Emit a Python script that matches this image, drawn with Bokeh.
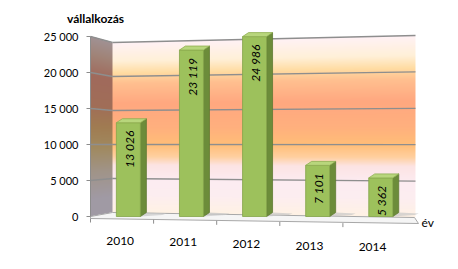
import numpy as np
from bokeh.plotting import figure
from bokeh.models import Range1d, FixedTicker
from bokeh.core.properties import value
from bokeh.embed import file_html
from bokeh.resources import INLINE

# ---------------- data ----------------
years = ["2010", "2011", "2012", "2013", "2014"]
counts = [13026, 23119, 24986, 7101, 5362]
bar_labels = ["13 026", "23 119", "24 986", "7 101", "5 362"]
y_ticks = [0, 5000, 10000, 15000, 20000, 25000]
y_tick_labels = ["0", "5 000", "10 000", "15 000", "20 000", "25 000"]
y_title = "vállalkozás"
x_title = "év"

# ---------------- geometry helpers (decoration only) ----------------
STEP = 63.1     # px per category
PXY = 0.0072    # px per unit


def px2x(px):
    return -0.6 + (px - 90) / STEP


def px2y(py):
    return (216 - py) / PXY


FONT = value("Lato")

p = figure(width=458, height=269, output_backend="svg", toolbar_location=None,
           x_range=Range1d(px2x(0), px2x(458)), y_range=Range1d(px2y(269), px2y(0)),
           min_border_left=0, min_border_right=0, min_border_top=0, min_border_bottom=0,
           x_axis_location=None)
p.grid.visible = False
p.outline_line_color = None
p.background_fill_color = "white"
p.border_fill_color = "white"

ax = p.yaxis[0]
ax.fixed_location = px2x(90)
ax.bounds = (0, 25000)
ax.ticker = FixedTicker(ticks=y_ticks)
ax.major_label_overrides = {t: l for t, l in zip(y_ticks, y_tick_labels)}
ax.major_tick_out = 4
ax.major_tick_in = 0
ax.minor_tick_line_color = None
ax.axis_line_color = "#8c8c8c"
ax.major_tick_line_color = "#8c8c8c"
ax.major_label_text_font = "Lato"
ax.major_label_text_font_size = "11px"
ax.major_label_text_color = "#000000"
ax.major_label_standoff = 8


# ---------------- walls (gradient image) ----------------
def interp_stops(f, stops):
    fs = np.array([s[0] for s in stops])
    cols = np.array([[int(s[1][i:i + 2], 16) for i in (1, 3, 5)] for s in stops], dtype=float)
    return np.stack([np.interp(f, fs, cols[:, k]) for k in range(3)], axis=-1)


back_stops = [(0.0, "#fff2e4"), (0.10, "#fdeef0"), (0.19, "#fcecf2"), (0.28, "#fde4e4"),
              (0.33, "#ffd0a0"), (0.40, "#ffbe78"), (0.50, "#ffb07e"), (0.64, "#ffa880"),
              (0.76, "#ffc090"), (0.82, "#ffdca2"), (0.89, "#fff0d8"), (1.0, "#fff2f6")]
left_stops = [(0.0, "#a09aa4"), (0.10, "#a09aa4"), (0.25, "#a09488"), (0.38, "#a08a60"),
              (0.50, "#a07c52"), (0.62, "#a06e58"), (0.78, "#a06a5c"), (0.90, "#a08478"),
              (1.0, "#a09294")]

X_A, X_B, Y_A, Y_B = 88, 420, 30, 230
cols = np.arange(X_A, X_B) + 0.5
rows = np.arange(Y_A, Y_B) + 0.5
C, R = np.meshgrid(cols, rows)
rgb = np.zeros(C.shape + (3,))
alpha = np.zeros(C.shape)

lt = 36 + (C - 90) / 22 * 6
lb = 216 - (C - 90) / 22 * 4
mask_l = (C >= 90) & (C <= 112) & (R >= lt) & (R <= lb)
fl = np.clip((lb - R) / (lb - lt), 0, 1)
rgb_l = interp_stops(fl, left_stops)
bt = 42 - (C - 112) / 303 * 7
bb = 212 + (C - 112) / 303 * 5
mask_b = (C > 112) & (C <= 415) & (R >= bt) & (R <= bb)
fb = np.clip((bb - R) / (bb - bt), 0, 1)
rgb_b = interp_stops(fb, back_stops)

rgb[mask_l] = rgb_l[mask_l]
rgb[mask_b] = rgb_b[mask_b]
alpha[mask_l | mask_b] = 255

img = np.zeros(C.shape, dtype=np.uint32)
view = img.view(dtype=np.uint8).reshape(C.shape + (4,))
view[..., 0] = rgb[..., 0].astype(np.uint8)
view[..., 1] = rgb[..., 1].astype(np.uint8)
view[..., 2] = rgb[..., 2].astype(np.uint8)
view[..., 3] = alpha.astype(np.uint8)
img = np.flipud(img)

p.image_rgba(image=[img], x=px2x(X_A), y=px2y(Y_B),
             dw=(X_B - X_A) / STEP, dh=(Y_B - Y_A) / PXY)

# gridlines on walls (from tick values)
gx0, gy0, gx1, gy1 = [], [], [], []
for v in y_ticks[1:]:
    yl_front = px2y(216 - v * PXY)
    yl_back = px2y(212 - v * 0.0068)
    yr_back = px2y(217 - v * 0.00728)
    gx0 += [px2x(90), px2x(112)]
    gy0 += [yl_front, yl_back]
    gx1 += [px2x(112), px2x(415)]
    gy1 += [yl_back, yr_back]
p.segment(x0=gx0, y0=gy0, x1=gx1, y1=gy1, line_color="#8e8e8e", line_width=1.3)

# floor
fx = [px2x(90), px2x(112), px2x(414), px2x(418), px2x(90)]
fy = [px2y(216), px2y(212), px2y(217), px2y(223), px2y(218)]
p.patch(fx, fy, fill_color="#f5f5f5", line_color="#a8a8a8", line_width=1)

# tick marks under floor at category boundaries
tx = [k - 0.6 for k in range(len(years))]
ty0 = [px2y(218 + ((k + 0.6) * STEP) * 6 / 327) for k in tx]
ty1 = [y - 4 / PXY for y in ty0]
p.segment(x0=tx, y0=ty0, x1=tx, y1=ty1, line_color="#8e8e8e", line_width=1)

# ---------------- bars ----------------
xs = list(range(len(years)))
W = 24 / STEP
DX = 6 / STEP
DY = 4 / PXY

side_x, side_y, top_x, top_y, sh_x, sh_y = [], [], [], [], [], []
for x, v in zip(xs, counts):
    xl, xr = x - W / 2, x + W / 2
    side_x.append([xr, xr + DX, xr + DX, xr])
    side_y.append([0, DY, v + DY, v])
    top_x.append([xl, xr, xr + DX, xl + DX])
    top_y.append([v, v, v + DY, v + DY])
    sh_x.append([xr, xr + 22 / STEP, xr + 26 / STEP, xr + DX])
    sh_y.append([0, 1.5 / PXY, 3 / PXY, DY])

p.patches(sh_x, sh_y, fill_color="#c8c8c8", fill_alpha=0.7, line_color=None)
p.patches(side_x, side_y, fill_color="#6c8c3a", line_color="#5e7a32", line_width=0.8)
p.vbar(x=xs, top=counts, bottom=0, width=W, fill_color="#9dc15c", line_color="#84a44a", line_width=0.8)
p.patches(top_x, top_y, fill_color="#b8d67c", line_color="#8fae52", line_width=0.8)

p.text(x=xs, y=counts, text=bar_labels, angle=np.pi / 2, text_align="right",
       text_baseline="middle", y_offset=8, x_offset=1, text_font=FONT,
       text_font_style="italic", text_font_size="12px", text_color="#000000")

# category labels
lx = [x - 0.13 for x in xs]
ly = [px2y(240 + 1.7 * x) for x in xs]
p.text(x=lx, y=ly, text=years, text_align="center", text_baseline="middle",
       text_font=FONT, text_font_size="12px", text_color="#000000")

p.text(x=[px2x(421)], y=[px2y(222)], text=[x_title], text_align="left", text_baseline="middle",
       text_font=FONT, text_font_size="12px", text_color="#000000")

p.text(x=[px2x(95)], y=[px2y(18)], text=[y_title], text_align="center", text_baseline="middle",
       text_font=FONT, text_font_size="12px", text_font_style="bold", text_color="#000000")

open("out.html", "w").write(file_html(p, INLINE))
